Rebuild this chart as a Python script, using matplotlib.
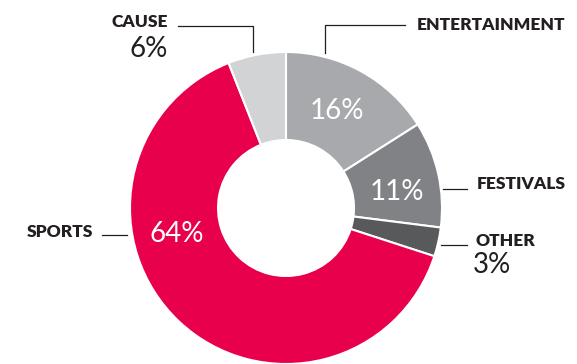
import matplotlib
matplotlib.use('Agg')
import matplotlib.pyplot as plt

# data
categories = ['ENTERTAINMENT', 'FESTIVALS', 'OTHER', 'SPORTS', 'CAUSE']
shares = [16, 11, 3, 64, 6]
colors = ['#a7a9ac', '#808285', '#58595b', '#e8004c', '#d1d3d4']

W, H = 577, 364
fig = plt.figure(figsize=(W / 100, H / 100), dpi=100)
ax = fig.add_axes([0, 0, 1, 1])

cx, cy, R, r = 286, 208, 156, 68
ax.pie(shares, colors=colors, startangle=90, counterclock=False,
       center=(cx, H - cy), radius=R,
       wedgeprops=dict(width=R - r, edgecolor='white', linewidth=1.5))
ax.set_xlim(0, W)
ax.set_ylim(0, H)
ax.set_aspect('equal')
ax.axis('off')

def Y(y):
    return H - y

ink = '#231f20'
num_font = dict(family='Lato', weight='normal', fontsize=20)
lab_font = dict(family='Lato', weight='heavy', fontsize=12.5)

# percentages inside the ring
inside = {'ENTERTAINMENT': (337, 119), 'FESTIVALS': (397, 200), 'SPORTS': (177, 242)}
for cat, v in zip(categories, shares):
    if cat in inside:
        x, y = inside[cat]
        ax.text(x, Y(y), f'{v}%', color='white', ha='center', va='baseline', **num_font)

# outside labels
share = dict(zip(categories, shares))
ax.text(168, Y(27), 'CAUSE', color=ink, ha='right', va='baseline', **lab_font)
ax.text(168, Y(57), f"{share['CAUSE']}%", color=ink, ha='right', va='baseline', **num_font)
ax.text(417, Y(30), 'ENTERTAINMENT', color=ink, ha='left', va='baseline', **lab_font)
ax.text(477, Y(189), 'FESTIVALS', color=ink, ha='left', va='baseline', **lab_font)
ax.text(475, Y(246), 'OTHER', color=ink, ha='left', va='baseline', **lab_font)
ax.text(473, Y(273), f"{share['OTHER']}%", color=ink, ha='left', va='baseline', **num_font)
ax.text(93, Y(237), 'SPORTS', color=ink, ha='right', va='baseline', **lab_font)

# leader lines
lw = 0.9
ax.plot([178, 253, 253], [Y(26), Y(26), Y(52)], color=ink, lw=lw)
ax.plot([405, 325, 325], [Y(25), Y(25), Y(53)], color=ink, lw=lw)
ax.plot([443, 467], [Y(189), Y(189)], color=ink, lw=lw)
ax.plot([441, 467], [Y(245), Y(245)], color=ink, lw=lw)
ax.plot([102, 127], [Y(235), Y(235)], color=ink, lw=lw)

fig.savefig('out.png', dpi=100)
